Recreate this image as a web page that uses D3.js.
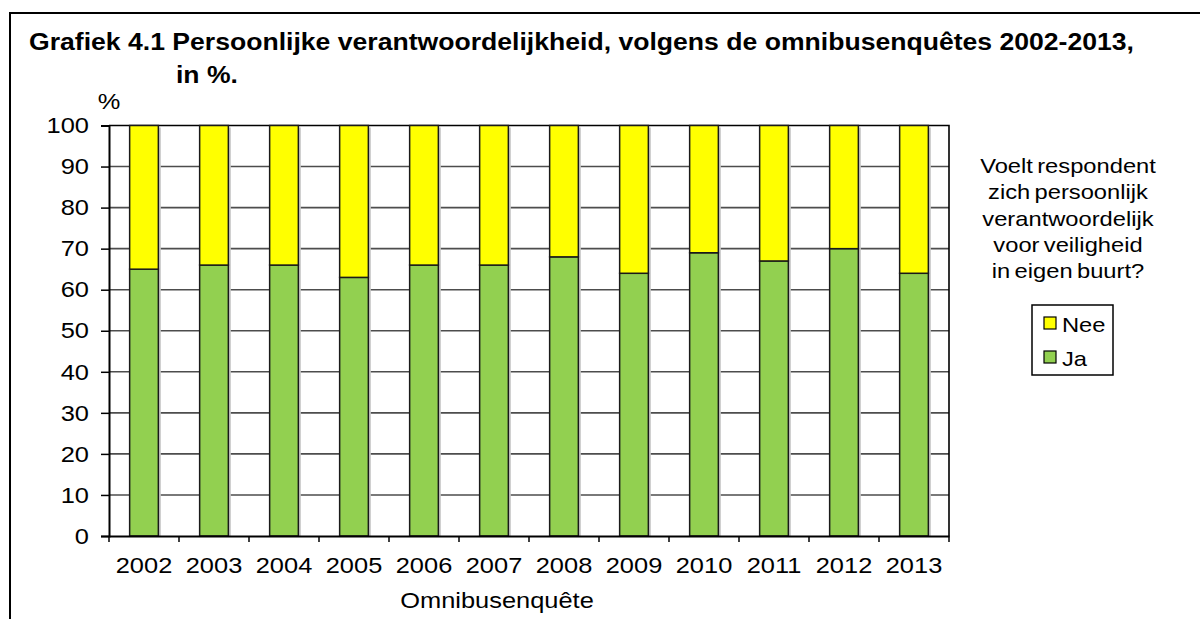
<!DOCTYPE html>
<html>
<head>
<meta charset="utf-8">
<script src="https://cdn.jsdelivr.net/npm/d3@7"></script>
<style>
  body { margin: 0; background: #fff; }
  svg text { font-family: Arial, "Liberation Sans", sans-serif; fill: #000; }
</style>
</head>
<body>
<svg id="chart" width="1200" height="619"></svg>
<script>
// ---------- Data ----------
const years = ["2002","2003","2004","2005","2006","2007","2008","2009","2010","2011","2012","2013"];
const ja  = [65, 66, 66, 63, 66, 66, 68, 64, 69, 67, 70, 64];
const nee = ja.map(v => 100 - v);
const yTicks = [0,10,20,30,40,50,60,70,80,90,100];
const titleLines = ["Grafiek 4.1 Persoonlijke verantwoordelijkheid, volgens de omnibusenquêtes 2002-2013,", "in %."];
const legendTitle = ["Voelt respondent", "zich persoonlijk", "verantwoordelijk", "voor veiligheid", "in eigen buurt?"];
const series = [
  {name: "Nee", color: "#ffff00"},
  {name: "Ja",  color: "#92d050"}
];

// ---------- Setup ----------
const svg = d3.select("#chart");
const plot = {left: 109, right: 949, top: 125.5, bottom: 536};
const K = 1.13; // horizontal text stretch of the original rendering

// widen text around its anchor point
function stretch(sel) {
  sel.each(function() {
    const t = d3.select(this);
    const x = +t.attr("x") || 0, y = +t.attr("y") || 0;
    t.attr("transform", `translate(${x},${y}) scale(${K},1) translate(${-x},${-y})`);
  });
}

svg.append("rect")
  .attr("x", 10).attr("y", 13)
  .attr("width", 1220).attr("height", 640)
  .attr("fill", "#fff").attr("stroke", "#000").attr("stroke-width", 2);

// title
svg.append("text")
  .attr("x", 29).attr("y", 50)
  .attr("font-size", 23.5).attr("font-weight", "bold")
  .attr("textLength", 1105).attr("lengthAdjust", "spacingAndGlyphs")
  .text(titleLines[0]);
svg.append("text")
  .attr("x", 176).attr("y", 83)
  .attr("font-size", 23.5).attr("font-weight", "bold")
  .text(titleLines[1])
  .call(stretch);

const x = d3.scaleBand()
  .domain(years)
  .range([plot.left, plot.right])
  .paddingInner(0.59)
  .paddingOuter(0.295);

const y = d3.scaleLinear()
  .domain([0, 100])
  .range([plot.bottom, plot.top]);

// gridlines
svg.append("g")
  .selectAll("line")
  .data(yTicks.filter(d => d > 0 && d < 100))
  .join("line")
  .attr("x1", plot.left).attr("x2", plot.right)
  .attr("y1", d => y(d)).attr("y2", d => y(d))
  .attr("stroke", "#4d4d4d").attr("stroke-width", 1.6);

// plot frame (top/right)
svg.append("path")
  .attr("d", `M${plot.left},${plot.top}H${plot.right}V${plot.bottom}`)
  .attr("fill", "none").attr("stroke", "#000").attr("stroke-width", 1.6);

// bars
const stacked = years.map((yr, i) => ({year: yr, ja: ja[i], nee: nee[i]}));
const bars = svg.append("g");

bars.selectAll("rect.shadow")
  .data(stacked)
  .join("rect")
  .attr("class", "shadow")
  .attr("x", d => x(d.year) + 2.5)
  .attr("y", y(100) + 2)
  .attr("width", x.bandwidth())
  .attr("height", y(0) - y(100) - 2)
  .attr("fill", "#c8c8c8");

bars.selectAll("rect.ja")
  .data(stacked)
  .join("rect")
  .attr("class", "ja")
  .attr("x", d => x(d.year))
  .attr("y", d => y(d.ja))
  .attr("width", x.bandwidth())
  .attr("height", d => y(0) - y(d.ja))
  .attr("fill", series[1].color)
  .attr("stroke", "#1a1a1a").attr("stroke-width", 1.5);

bars.selectAll("rect.nee")
  .data(stacked)
  .join("rect")
  .attr("class", "nee")
  .attr("x", d => x(d.year))
  .attr("y", d => y(100))
  .attr("width", x.bandwidth())
  .attr("height", d => y(d.ja) - y(100))
  .attr("fill", series[0].color)
  .attr("stroke", "#1a1a1a").attr("stroke-width", 1.5);

// y axis
const yAxis = svg.append("g")
  .attr("transform", `translate(${plot.left},0)`)
  .call(d3.axisLeft(y).tickValues(yTicks).tickSize(8).tickPadding(12));
yAxis.select(".domain").attr("stroke", "#000").attr("stroke-width", 2);
yAxis.selectAll(".tick line").attr("stroke", "#000").attr("stroke-width", 1.5);
yAxis.selectAll("text")
  .attr("font-size", 22.5).attr("font-family", "Arial, 'Liberation Sans', sans-serif")
  .call(stretch);

// x axis
const xAxis = svg.append("g")
  .attr("transform", `translate(0,${plot.bottom})`)
  .call(d3.axisBottom(x).tickSize(0).tickPadding(21));
xAxis.select(".domain").attr("stroke", "#000").attr("stroke-width", 2);
xAxis.selectAll("text")
  .attr("font-size", 22.5).attr("font-family", "Arial, 'Liberation Sans', sans-serif")
  .call(stretch);

// category boundary ticks
xAxis.selectAll("line.sep")
  .data(d3.range(years.length + 1))
  .join("line")
  .attr("class", "sep")
  .attr("x1", i => plot.left + i * x.step())
  .attr("x2", i => plot.left + i * x.step())
  .attr("y1", 0).attr("y2", 6)
  .attr("stroke", "#000").attr("stroke-width", 1.5);

// axis titles
svg.append("text")
  .attr("x", 109).attr("y", 109)
  .attr("text-anchor", "middle").attr("font-size", 22.5)
  .text("%")
  .call(stretch);
svg.append("text")
  .attr("x", 497).attr("y", 608)
  .attr("text-anchor", "middle").attr("font-size", 22.5)
  .text("Omnibusenquête")
  .call(stretch);

// legend title
svg.append("g")
  .selectAll("text")
  .data(legendTitle)
  .join("text")
  .attr("x", 1068)
  .attr("y", (d, i) => 173 + i * 26.3)
  .attr("text-anchor", "middle")
  .attr("font-size", 21)
  .attr("word-spacing", -2)
  .text(d => d)
  .call(stretch);

// legend box
const lg = svg.append("g");
lg.append("rect")
  .attr("x", 1032).attr("y", 305)
  .attr("width", 81).attr("height", 70)
  .attr("fill", "#fff").attr("stroke", "#000").attr("stroke-width", 1.5);

const item = lg.selectAll("g.item")
  .data(series)
  .join("g")
  .attr("class", "item")
  .attr("transform", (d, i) => `translate(1044,${317 + i * 34})`);
item.append("rect")
  .attr("width", 12).attr("height", 12)
  .attr("fill", d => d.color)
  .attr("stroke", "#000").attr("stroke-width", 1.2);
item.append("text")
  .attr("x", 18).attr("y", 14.5)
  .attr("font-size", 21)
  .text(d => d.name)
  .call(stretch);
</script>
</body>
</html>
